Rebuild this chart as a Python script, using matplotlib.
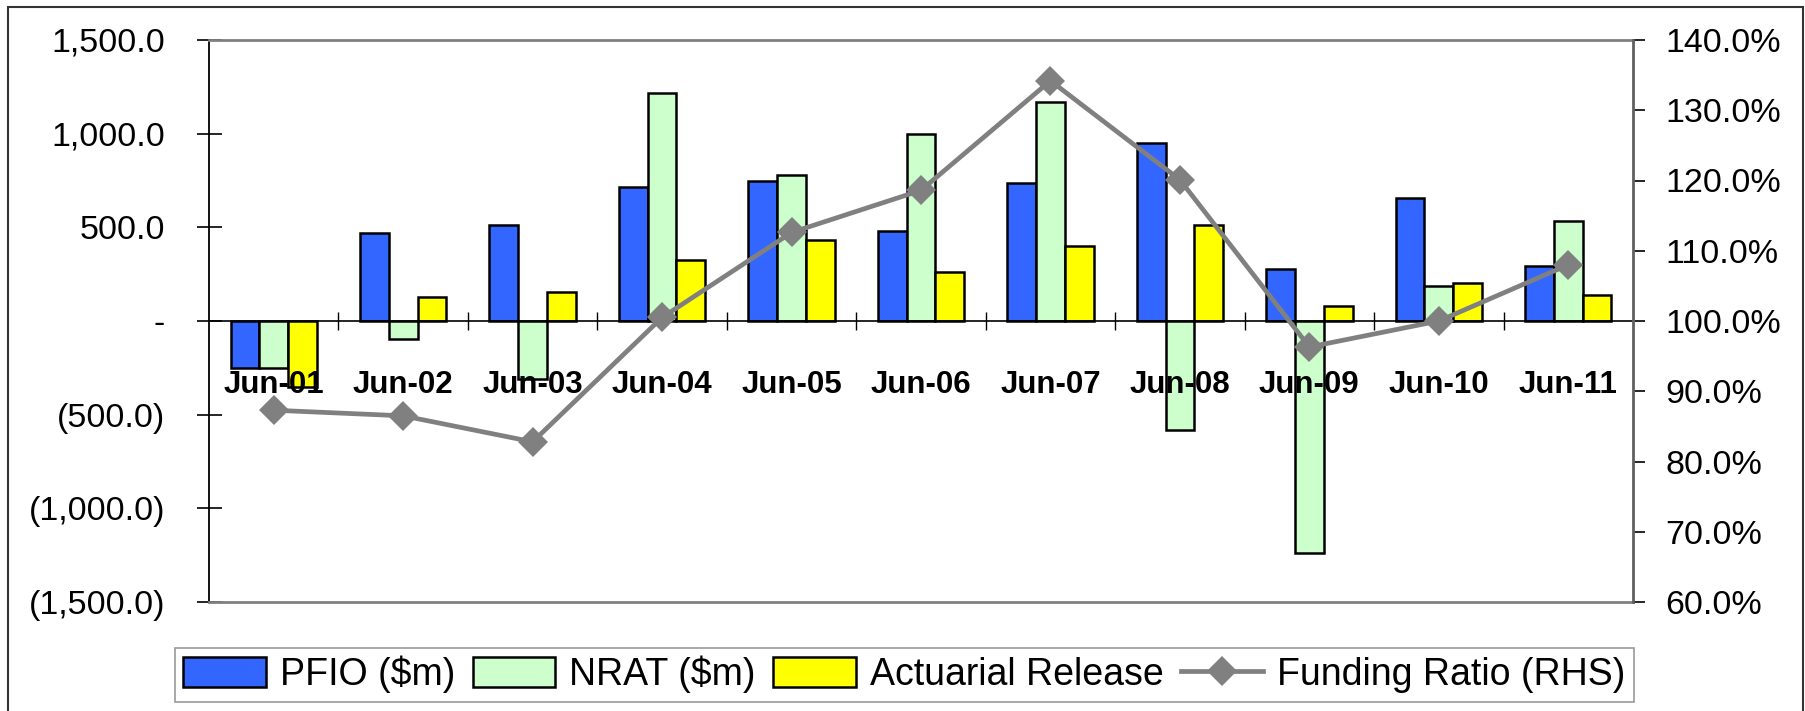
import matplotlib
matplotlib.use("Agg")
import matplotlib.pyplot as plt
import numpy as np
from matplotlib.ticker import FuncFormatter, FixedLocator
from matplotlib.patches import Rectangle

plt.rcParams['font.family'] = ['Liberation Sans', 'DejaVu Sans']

categories = ["Jun-01", "Jun-02", "Jun-03", "Jun-04", "Jun-05", "Jun-06",
              "Jun-07", "Jun-08", "Jun-09", "Jun-10", "Jun-11"]
pfio = [-251, 470, 514, 717, 748, 482, 735, 951, 279, 656, 293]
nrat = [-251, -95, -311, 1218, 779, 1000, 1168, -582, -1241, 187, 532]
actuarial = [-350, 126, 155, 325, 435, 261, 403, 514, 78, 201, 138]
funding_ratio = [87.3, 86.5, 82.8, 100.5, 112.6, 118.6, 134.2, 120.1, 96.3, 100.0, 108.0]

left_ticks = [-1500, -1000, -500, 0, 500, 1000, 1500]
right_ticks = [60, 70, 80, 90, 100, 110, 120, 130, 140]

W, H = 1806, 711
fig = plt.figure(figsize=(W / 100, H / 100), dpi=100)
ax = fig.add_axes([209 / W, 1 - 602 / H, (1633 - 209) / W, (602 - 40) / H])

x = np.arange(len(categories))
bw = 1 / 4.5
ax.bar(x - bw, pfio, bw, color='#3366FF', edgecolor='black', linewidth=1.8, label='PFIO ($m)', zorder=2)
ax.bar(x, nrat, bw, color='#CCFFCC', edgecolor='black', linewidth=1.8, label='NRAT ($m)', zorder=2)
ax.bar(x + bw, actuarial, bw, color='#FFFF00', edgecolor='black', linewidth=1.8, label='Actuarial Release', zorder=2)

ax.set_xlim(-0.5, len(categories) - 0.5)
ax.set_ylim(left_ticks[0], left_ticks[-1])
ax.yaxis.set_major_locator(FixedLocator(left_ticks))


def lfmt(v, pos):
    if abs(v) < 1e-9:
        return '-'
    if v < 0:
        return '({:,.1f})'.format(-v)
    return '{:,.1f}'.format(v)


ax.yaxis.set_major_formatter(FuncFormatter(lfmt))
ax.tick_params(axis='y', direction='inout', length=18, width=1.2, pad=22.5,
               labelsize=24.5, colors='black')
ax.set_xticks([])
for s in ['top', 'bottom']:
    ax.spines[s].set_color('#808080')
    ax.spines[s].set_linewidth(2)
ax.spines['left'].set_color('black')
ax.spines['left'].set_linewidth(1.3)
ax.spines['right'].set_visible(False)

# zero-line category axis
ymin, ymax = ax.get_ylim()
zloc = (0 - ymin) / (ymax - ymin)
sec = ax.secondary_xaxis(zloc)
sec.set_zorder(5)
sec.xaxis.set_ticks_position('bottom')
sec.xaxis.set_label_position('bottom')
for s in ['top', 'bottom']:
    sec.spines[s].set_color('black')
    sec.spines[s].set_linewidth(1.2)
sec.set_xticks(x)
sec.set_xticklabels(categories, fontweight='bold', fontsize=22.5)
sec.set_xticks(np.arange(len(categories) - 1) + 0.5, minor=True)
sec.tick_params(axis='x', which='both', bottom=True, top=False,
                labelbottom=True, labeltop=False)
sec.tick_params(axis='x', which='major', length=0, pad=35)
sec.tick_params(axis='x', which='minor', direction='inout', length=13.5, width=1.0)

ax2 = ax.twinx()
ax2.plot(x, funding_ratio, color='#808080', linewidth=3.4, marker='D', markersize=15,
         markeredgewidth=0, label='Funding Ratio (RHS)', zorder=3)
ax2.set_ylim(right_ticks[0], right_ticks[-1])
ax2.yaxis.set_major_locator(FixedLocator(right_ticks))
ax2.yaxis.set_major_formatter(FuncFormatter(lambda v, p: '{:.1f}%'.format(v)))
ax2.tick_params(axis='y', direction='out', length=8.6, width=1.2, pad=14.5, labelsize=24.5)
for s in ['top', 'bottom', 'left']:
    ax2.spines[s].set_visible(False)
ax2.spines['right'].set_color('#606060')
ax2.spines['right'].set_linewidth(2)

h1, l1 = ax.get_legend_handles_labels()
h2, l2 = ax2.get_legend_handles_labels()
leg = fig.legend(h1 + h2, l1 + l2, ncol=4, loc='center',
                 bbox_to_anchor=((168 + 1641) / 2 / W, 1 - (641 + 708) / 2 / H),
                 fontsize=27, frameon=True, fancybox=False, edgecolor='#808080',
                 handlelength=2.2, handleheight=0.85, handletextpad=0.37,
                 columnspacing=0.47, borderpad=0.22, borderaxespad=0)
leg.get_frame().set_linewidth(1.2)

fig.patches.append(Rectangle((8 / W, -0.1), (1803 - 8) / W, 1.1 - 7 / H,
                             transform=fig.transFigure, fill=False,
                             edgecolor='#333333', linewidth=1.5))

fig.savefig('out.png', dpi=100)
